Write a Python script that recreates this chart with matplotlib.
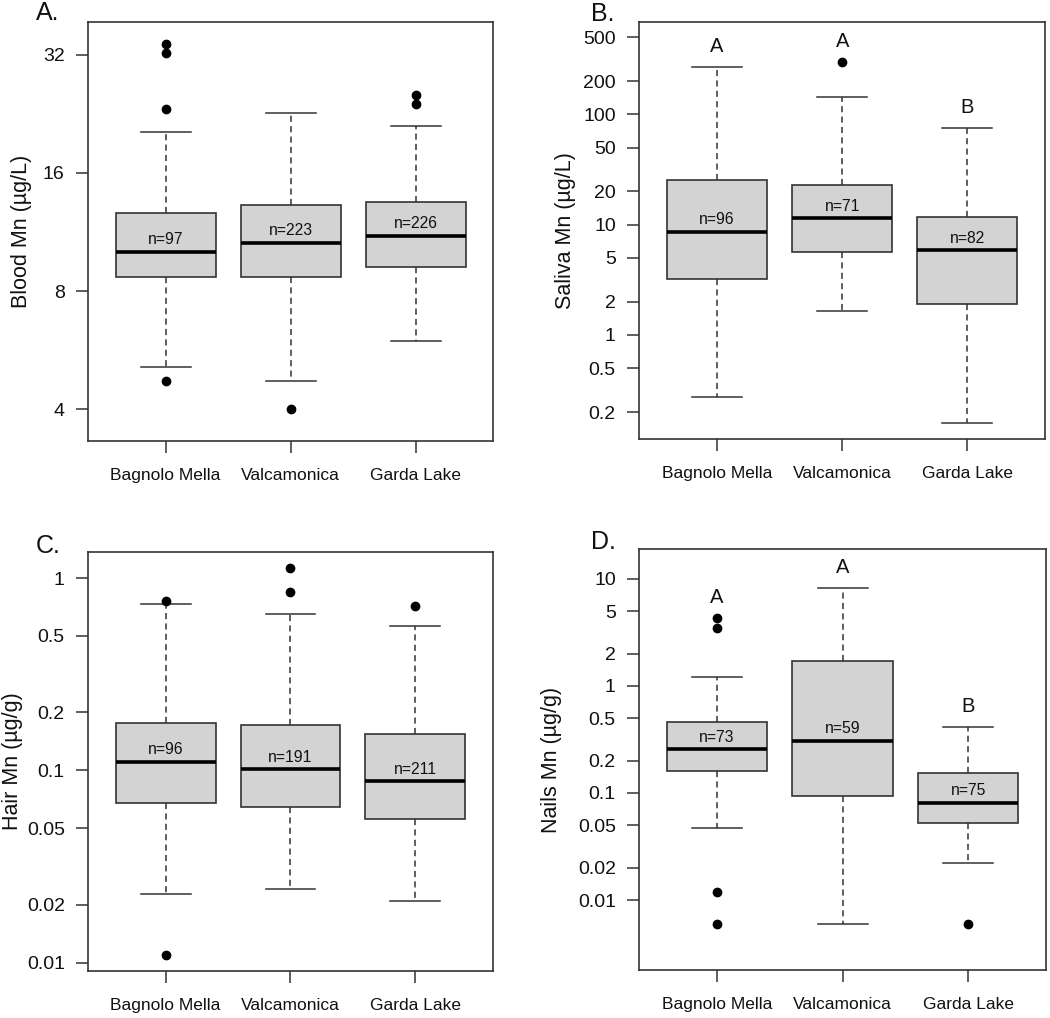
import numpy as np
import matplotlib
matplotlib.use("Agg")
import matplotlib.pyplot as plt
from matplotlib.ticker import FixedLocator, NullLocator, FuncFormatter

plt.rcParams['font.family'] = ['Liberation Sans', 'DejaVu Sans']

groups = ['Bagnolo Mella', 'Valcamonica', 'Garda Lake']

# A. blood (ug/L)
blood_low = [5.14, 4.71, 5.98]
blood_q1 = [8.68, 8.68, 9.19]
blood_med = [10.08, 10.63, 11.08]
blood_q3 = [12.64, 13.27, 13.48]
blood_high = [20.3, 22.7, 21.06]
blood_out = [[34.2, 32.3, 23.3, 4.71], [4.0], [25.3, 24.0]]
blood_n = [97, 223, 226]

# B. saliva (ug/L)
saliva_low = [0.276, 1.64, 0.158]
saliva_q1 = [3.20, 5.62, 1.91]
saliva_med = [8.64, 11.43, 5.90]
saliva_q3 = [25.3, 22.9, 11.81]
saliva_high = [270.7, 142.9, 75.7]
saliva_out = [[], [300.5], []]
saliva_n = [96, 71, 82]
saliva_letters = ['A', 'A', 'B']

# C. hair (ug/g)
hair_low = [0.0229, 0.0241, 0.0210]
hair_q1 = [0.0679, 0.0647, 0.0558]
hair_med = [0.111, 0.1012, 0.0880]
hair_q3 = [0.177, 0.1728, 0.1545]
hair_high = [0.736, 0.647, 0.563]
hair_out = [[0.762, 0.01096], [1.132, 0.846], [0.715]]
hair_n = [96, 191, 211]

# D. nails (ug/g)
nails_low = [0.0468, 0.00597, 0.0220]
nails_q1 = [0.1617, 0.0944, 0.0528]
nails_med = [0.256, 0.308, 0.0812]
nails_q3 = [0.461, 1.712, 0.1527]
nails_high = [1.222, 8.30, 0.417]
nails_out = [[4.35, 3.46, 0.01188, 0.00597], [], [0.00597]]
nails_n = [73, 59, 75]
nails_letters = ['A', 'A', 'B']

edge = '#333333'
txt = '#111111'

fig = plt.figure(figsize=(10.5, 10.18), dpi=100)


def make_stats(low, q1, med, q3, high, out):
    stats = []
    for i in range(len(groups)):
        stats.append(dict(whislo=low[i], q1=q1[i], med=med[i], q3=q3[i],
                          whishi=high[i], fliers=out[i], label=groups[i]))
    return stats


def fmt(v, pos):
    return ('%g' % v)


def panel(rect, stats, n, ylabel, ylim, yticks, base, tag, tag_xy, ylab_x, letters=None):
    ax = fig.add_axes(rect)
    ax.bxp(stats, positions=[1, 2, 3], widths=0.8, capwidths=0.4, patch_artist=True,
           boxprops=dict(facecolor='#d3d3d3', edgecolor=edge, linewidth=1.2),
           medianprops=dict(color='black', linewidth=2.6, solid_capstyle='butt'),
           whiskerprops=dict(color=edge, linewidth=1.1, linestyle=(0, (4, 2.8))),
           capprops=dict(color=edge, linewidth=1.1),
           flierprops=dict(marker='o', markerfacecolor='black', markeredgecolor='black',
                           markersize=6))
    ax.set_yscale('log', base=base)
    ax.set_ylim(*ylim)
    ax.set_xlim(0.38, 3.62)
    ax.yaxis.set_major_locator(FixedLocator(yticks))
    ax.yaxis.set_minor_locator(NullLocator())
    ax.yaxis.set_major_formatter(FuncFormatter(fmt))
    ax.set_xticks([1, 2, 3])
    ax.set_xticklabels(groups)
    ax.tick_params(axis='y', direction='out', length=8.4, width=1.1, color=edge,
                   labelsize=14, pad=8.5, labelcolor=txt)
    ax.tick_params(axis='x', direction='out', length=8.4, width=1.1, color=edge,
                   labelsize=12.5, pad=11, labelcolor=txt)
    for s in ax.spines.values():
        s.set_color(edge)
        s.set_linewidth(1.2)
    for i in range(3):
        ax.annotate('n=%d' % n[i], (i + 1, stats[i]['med']), xytext=(0, 8.5),
                    textcoords='offset points', ha='center', va='center',
                    fontsize=11.3, color=txt)
    if letters is not None:
        for i in range(3):
            top = max([stats[i]['whishi']] + list(stats[i]['fliers']))
            ax.annotate(letters[i], (i + 1, top), xytext=(0, 14.5),
                        textcoords='offset points', ha='center', va='center',
                        fontsize=14.5, color=txt)
    fig.text(ylab_x, rect[1] + rect[3] / 2, ylabel, rotation=90, ha='center',
             va='center', fontsize=15.5, color=txt)
    fig.text(tag_xy[0], tag_xy[1], tag, ha='left', va='baseline', fontsize=18, color=txt)
    return ax


W, H = 1050.0, 1018.0

panel([88 / W, 1 - 441 / H, 405 / W, 419 / H],
      make_stats(blood_low, blood_q1, blood_med, blood_q3, blood_high, blood_out),
      blood_n, 'Blood Mn (\u00b5g/L)', (3.32, 38.8), [4, 8, 16, 32], 2,
      'A.', (36 / W, 1 - 20 / H), 22 / W)

panel([639.3 / W, 1 - 439.3 / H, 405.7 / W, 417.3 / H],
      make_stats(saliva_low, saliva_q1, saliva_med, saliva_q3, saliva_high, saliva_out),
      saliva_n, 'Saliva Mn (\u00b5g/L)', (0.1133, 688),
      [0.2, 0.5, 1, 2, 5, 10, 20, 50, 100, 200, 500], 10,
      'B.', (591 / W, 1 - 21 / H), 565 / W, letters=saliva_letters)

panel([88.3 / W, 1 - 970.7 / H, 404.4 / W, 419 / H],
      make_stats(hair_low, hair_q1, hair_med, hair_q3, hair_high, hair_out),
      hair_n, 'Hair Mn (\u00b5g/g)', (0.00909, 1.370),
      [0.01, 0.02, 0.05, 0.1, 0.2, 0.5, 1], 10,
      'C.', (36 / W, 1 - 553 / H), 13 / W)

panel([639.3 / W, 1 - 970 / H, 406.7 / W, 420.7 / H],
      make_stats(nails_low, nails_q1, nails_med, nails_q3, nails_high, nails_out),
      nails_n, 'Nails Mn (\u00b5g/g)', (0.00222, 18.9),
      [0.01, 0.02, 0.05, 0.1, 0.2, 0.5, 1, 2, 5, 10], 10,
      'D.', (591 / W, 1 - 549 / H), 552 / W, letters=nails_letters)

fig.savefig('out.png', dpi=100)
